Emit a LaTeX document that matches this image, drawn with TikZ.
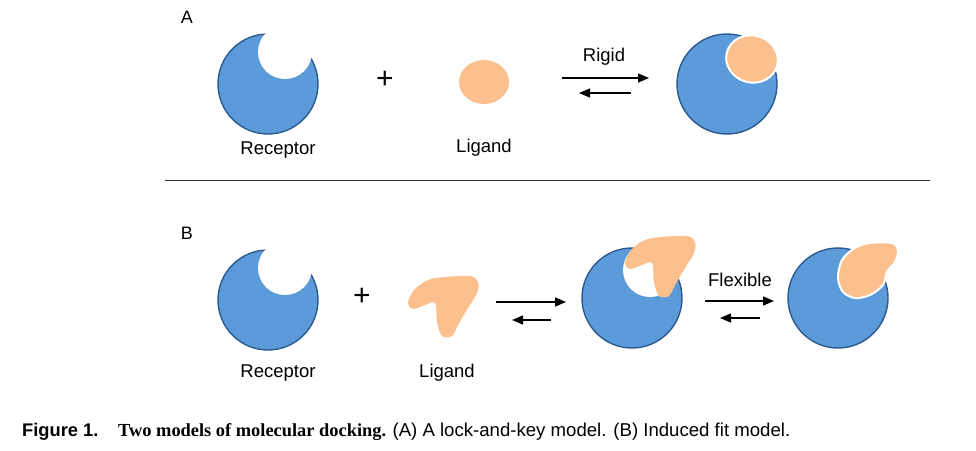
\documentclass[tikz,border=0pt]{standalone}
\usepackage{fontspec}
\setmainfont{Liberation Sans}
\newfontfamily\capserif{Liberation Serif}
\usepackage{tikz}
\usetikzlibrary{positioning,calc,arrows.meta,shapes.geometric}

\definecolor{recBlue}{RGB}{91,155,218}
\definecolor{recEdge}{RGB}{45,90,145}
\definecolor{ligPeach}{RGB}{252,192,142}

\begin{document}
\begin{tikzpicture}[x=1pt,y=-1pt,
    receptor/.style={circle,fill=recBlue,draw=recEdge,line width=1.4pt,minimum size=100pt,inner sep=0pt},
    bite/.style={circle,fill=white,minimum size=54pt,inner sep=0pt},
    lig/.style={fill=ligPeach},
    fitlig/.style={fill=ligPeach,draw=white,line width=2pt},
    fwd/.style={-{Triangle[length=11pt,width=9pt]},line width=1.3pt},
    lbl/.style={font=\fontsize{18.5}{20}\selectfont,inner sep=0pt},
    tag/.style={font=\fontsize{18}{20}\selectfont,inner sep=0pt},
    plus/.style={font=\fontsize{30}{30}\selectfont,inner sep=0pt},
    captxt/.style={anchor=base west,inner sep=0pt,font=\fontsize{18.6}{20}\selectfont}]
    \useasboundingbox (0,0) rectangle (976,450);

    % --- A: lock and key
    \node[tag] (tagA) at (187,17) {A};
    \node[receptor] (recA) at (268,84) {};
    \node[bite] (biteA) at (285,52) {};
    \node[lbl] (recAl) at (278,150) {Receptor};
    \node[plus] (plusA) at (385,80) {+};
    \node[lig,ellipse,minimum width=50pt,minimum height=44pt,inner sep=0pt] (ligA) at (484,82) {};
    \node[lbl] (ligAl) at (484,148) {Ligand};
    \node[lbl] (rigid) at (604,57) {Rigid};
    \coordinate (ra1) at (562,78);
    \coordinate (ra2) at (649,78);
    \coordinate (rb1) at (631,93);
    \coordinate (rb2) at (579,93);
    \draw[fwd] (ra1) -- (ra2);
    \draw[fwd] (rb1) -- (rb2);
    \node[receptor] (cplxA) at (727,84) {};
    \node[fitlig,ellipse,minimum width=52pt,minimum height=47pt,inner sep=0pt,rotate=-15] (ligAfit) at (752,59) {};

    % separator
    \coordinate (sepL) at (165,180);
    \coordinate (sepR) at (930,180);
    \draw[line width=1pt,black!80] (sepL) -- (sepR);

    % --- B: induced fit
    \node[tag] (tagB) at (187,233) {B};
    \node[receptor] (recB) at (268,300) {};
    \node[bite] (biteB) at (285,268) {};
    \node[lbl] (recBl) at (278,373) {Receptor};
    \node[plus] (plusB) at (362,297) {+};
    \fill[lig] plot[smooth cycle,tension=0.55] coordinates {(408,303) (414,290) (428,280) (445,277) (470,276) (478,282) (477,293) (468,308) (458,325) (452,336) (442,336) (437,322) (435,303) (425,305) (413,309)};
    \node[lbl] (ligBl) at (447,373) {Ligand};
    \coordinate (fa1) at (496,302);
    \coordinate (fa2) at (566,302);
    \coordinate (fb1) at (551,320);
    \coordinate (fb2) at (512,320);
    \draw[fwd] (fa1) -- (fa2);
    \draw[fwd] (fb1) -- (fb2);
    \node[receptor] (cplxB) at (632,298) {};
    \node[bite] (biteC) at (650,270) {};
    \fill[lig,shift={(217,-40)}] plot[smooth cycle,tension=0.55] coordinates {(408,303) (414,290) (428,280) (445,277) (470,276) (478,282) (477,293) (468,308) (458,325) (452,336) (442,336) (437,322) (435,303) (425,305) (413,309)};
    \node[lbl] (flex) at (740,280) {Flexible};
    \coordinate (xa1) at (705,301);
    \coordinate (xa2) at (774,301);
    \coordinate (xb1) at (760,318);
    \coordinate (xb2) at (720,318);
    \draw[fwd] (xa1) -- (xa2);
    \draw[fwd] (xb1) -- (xb2);
    \node[receptor] (cplxC) at (838,298) {};
    \draw[fitlig] plot[smooth cycle,tension=0.55] coordinates {(838,278) (842,260) (855,248) (870,243) (892,243) (898,250) (895,262) (887,272) (883,285) (870,295) (855,298) (843,292)};

    % caption
    \node[captxt,font=\bfseries\fontsize{18.3}{20}\selectfont] (capHead) at (22,436) {Figure 1.};
    \node[captxt,font=\capserif\bfseries\fontsize{18.4}{20}\selectfont] (capBold) at (118,436) {Two models of molecular docking.};
    \node[captxt,right=6pt of capBold.base east,anchor=base west] (capRest) {(A) A lock-and-key model. (B) Induced fit model.};
\end{tikzpicture}
\end{document}
